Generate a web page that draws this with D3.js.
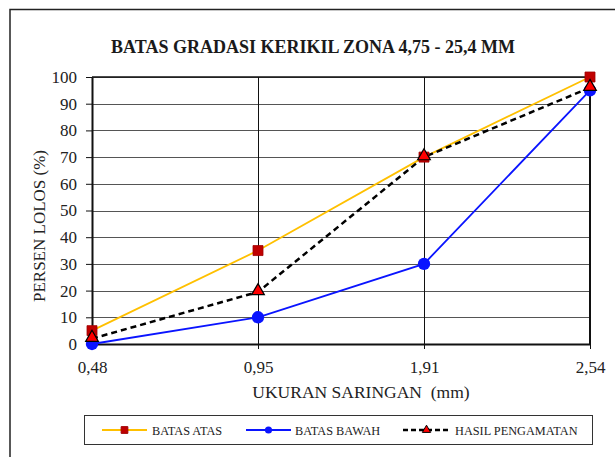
<!DOCTYPE html>
<html><head><meta charset="utf-8">
<script src="https://cdn.jsdelivr.net/npm/d3@7"></script>
<style>body{margin:0;background:#fff}svg{display:block}</style>
</head><body><svg id="c" width="615" height="457" font-family="Liberation Serif"></svg>
<script>
const categories = ["0,48", "0,95", "1,91", "2,54"];
const batasAtas = [5, 35, 70, 100];
const batasBawah = [0, 10, 30, 95];
const hasilPengamatan = [2, 19.5, 70, 96];
const yTicks = [0,10,20,30,40,50,60,70,80,90,100];
const seriesNames = ["BATAS ATAS", "BATAS BAWAH", "HASIL PENGAMATAN"];

const FONT = "Liberation Serif";
const svg = d3.select("#c");
const L = 92, R = 590, T = 77, B = 344;
const x = d3.scalePoint().domain(categories).range([L, R]);
const y = d3.scaleLinear().domain([0, 100]).range([B, T]);

svg.append("rect").attr("x", 10).attr("y", 9.5).attr("width", 640).attr("height", 500)
  .attr("fill", "none").attr("stroke", "#222").attr("stroke-width", 1.5);

svg.append("text").attr("x", 313).attr("y", 53).attr("text-anchor", "middle").attr("font-family", FONT).attr("fill", "#1a1a1a")
  .attr("font-weight", "bold").attr("font-size", 18)
  .text("BATAS GRADASI KERIKIL ZONA 4,75 - 25,4 MM");

svg.append("g").selectAll("line").data(yTicks).join("line")
  .attr("x1", L).attr("x2", R).attr("y1", d => Math.round(y(d)) + 0.5).attr("y2", d => Math.round(y(d)) + 0.5)
  .attr("stroke", "#555").attr("stroke-width", 1.2);
svg.append("g").selectAll("line").data(categories.slice(1, 3)).join("line")
  .attr("x1", d => Math.round(x(d)) + 0.5).attr("x2", d => Math.round(x(d)) + 0.5).attr("y1", T).attr("y2", B)
  .attr("stroke", "#111").attr("stroke-width", 1);

const yAxis = d3.axisLeft(y).tickValues(yTicks).tickSize(6).tickPadding(9).tickSizeOuter(0);
const gy = svg.append("g").attr("transform", `translate(${L},0)`).call(yAxis);
const xAxis = d3.axisBottom(x).tickSize(5).tickPadding(12).tickSizeOuter(0);
const gx = svg.append("g").attr("transform", `translate(0,${B})`).call(xAxis);
[gy, gx].forEach(g => {
  g.attr("font-family", FONT).attr("font-size", 17);
  g.select(".domain").attr("stroke", "#111").attr("stroke-width", 2);
  g.selectAll(".tick line").attr("stroke", "#111");
  g.selectAll(".tick text").attr("fill", "#222");
});
svg.append("line").attr("x1", L).attr("x2", R).attr("y1", T).attr("y2", T).attr("stroke", "#111").attr("stroke-width", 1.5);
svg.append("line").attr("x1", R).attr("x2", R).attr("y1", T).attr("y2", B).attr("stroke", "#111").attr("stroke-width", 2);

svg.append("text").attr("transform", "translate(45,226) rotate(-90)").attr("text-anchor", "middle").attr("font-family", FONT).attr("fill", "#222")
  .attr("font-size", 17).text("PERSEN LOLOS (%)");
svg.append("text").attr("x", 361).attr("y", 398).attr("text-anchor", "middle").attr("font-family", FONT).attr("fill", "#222")
  .attr("font-size", 17.5).attr("xml:space", "preserve").style("white-space", "pre").text("UKURAN SARINGAN  (mm)");

const line = d3.line().x((d, i) => x(categories[i])).y(d => y(d));
const plot = svg.append("g");
plot.append("path").datum(batasAtas).attr("d", line).attr("fill", "none").attr("stroke", "#ffc000").attr("stroke-width", 1.8);
plot.append("path").datum(batasBawah).attr("d", line).attr("fill", "none").attr("stroke", "#0a14ff").attr("stroke-width", 1.8);
plot.append("path").datum(hasilPengamatan).attr("d", line).attr("fill", "none").attr("stroke", "#000").attr("stroke-width", 2.5).attr("stroke-dasharray", "6,4");

const sq = d3.symbol().type(d3.symbolSquare).size(100);
const ci = d3.symbol().type(d3.symbolCircle).size(120);
const tr = d3.symbol().type(d3.symbolTriangle).size(70);
plot.selectAll(".sq").data(batasAtas).join("path").attr("d", sq)
  .attr("transform", (d, i) => `translate(${x(categories[i])},${y(d)})`).attr("fill", "#c00000").attr("stroke", "#a00000").attr("stroke-width", 0.8);
plot.selectAll(".ci").data(batasBawah).join("path").attr("d", ci)
  .attr("transform", (d, i) => `translate(${x(categories[i])},${y(d)})`).attr("fill", "#0a14ff");
plot.selectAll(".tr").data(hasilPengamatan).join("path").attr("d", tr)
  .attr("transform", (d, i) => `translate(${x(categories[i])},${y(d) - 1})`).attr("fill", "#ff0000").attr("stroke", "#000").attr("stroke-width", 1.2);

const lg = svg.append("g");
lg.append("rect").attr("x", 84.5).attr("y", 415.5).attr("width", 508).attr("height", 29).attr("fill", "#fff").attr("stroke", "#333").attr("stroke-width", 1);
const ly = 430;
const items = [
  {x1: 102, x2: 147, t: 152, color: "#ffc000", dash: null, w: 1.8, fill: "#c00000", stroke: "#a00000"},
  {x1: 246, x2: 291, t: 295, color: "#0a14ff", dash: null, w: 1.8, fill: "#0a14ff", stroke: "none"},
  {x1: 403, x2: 450, t: 455, color: "#000", dash: "5,3", w: 2.5, fill: "#ff0000", stroke: "#000"}
];
items.forEach((it, i) => {
  lg.append("line").attr("x1", it.x1).attr("x2", it.x2).attr("y1", ly).attr("y2", ly)
    .attr("stroke", it.color).attr("stroke-width", it.w).attr("stroke-dasharray", it.dash);
  const sym = [d3.symbol().type(d3.symbolSquare).size(45), d3.symbol().type(d3.symbolCircle).size(40), d3.symbol().type(d3.symbolTriangle).size(30)][i];
  lg.append("path").attr("d", sym).attr("transform", `translate(${(it.x1 + it.x2) / 2},${ly})`)
    .attr("fill", it.fill).attr("stroke", it.stroke).attr("stroke-width", 1);
  lg.append("text").attr("x", it.t).attr("y", ly + 4.5).attr("font-family", FONT).attr("fill", "#222").attr("font-size", 12.3).text(seriesNames[i]);
});
</script></body></html>
